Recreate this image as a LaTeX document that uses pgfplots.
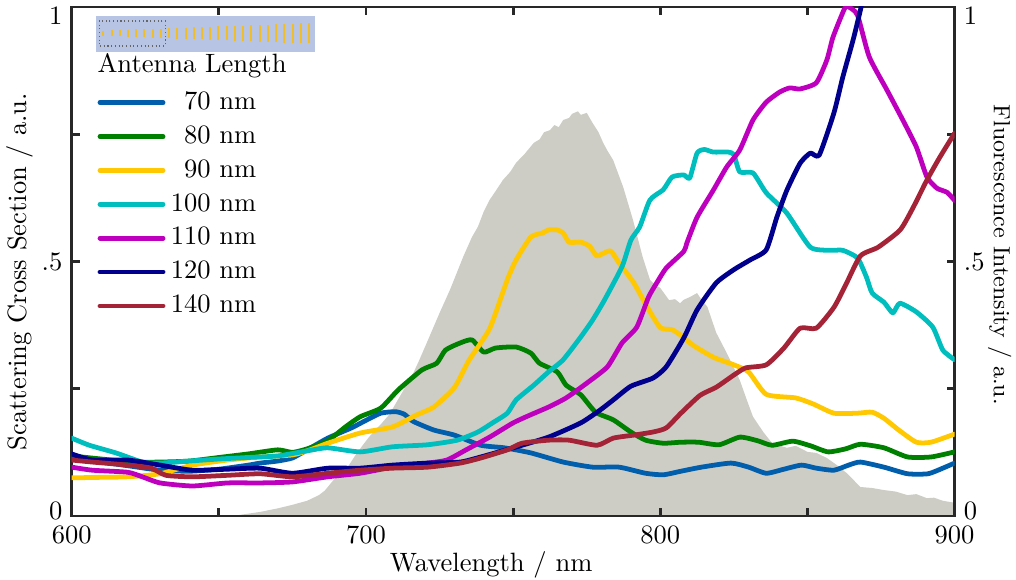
\documentclass[border=0pt]{standalone}
\usepackage{pgfplots}
\pgfplotsset{compat=1.18}
\usetikzlibrary{calc}

\definecolor{axisgray}{RGB}{40,40,40}
\definecolor{fluogray}{RGB}{205,205,197}
\definecolor{c70}{RGB}{0,94,172}
\definecolor{c80}{RGB}{0,128,0}
\definecolor{c90}{RGB}{255,200,0}
\definecolor{c100}{RGB}{0,190,190}
\definecolor{c110}{RGB}{190,0,190}
\definecolor{c120}{RGB}{0,0,140}
\definecolor{c140}{RGB}{165,35,55}
\definecolor{antbg}{RGB}{184,196,228}
\definecolor{antrod}{RGB}{240,190,40}

% fluorescence spectrum (right axis)
\pgfplotstableread{
lambda  I
655 0.000
658 0.003
664 0.008
670 0.015
675 0.022
680 0.030
684 0.041
686 0.050
689 0.071
692 0.090
694 0.098
696 0.116
699 0.140
701 0.155
703 0.168
705 0.180
708 0.200
711 0.230
713 0.250
716 0.280
718 0.305
721 0.345
723 0.372
725 0.399
728.5 0.444
731 0.480
733 0.509
736 0.548
738 0.568
740 0.598
742 0.621
744 0.638
746.5 0.660
749 0.676
751 0.694
754 0.712
757 0.733
759 0.740
760.5 0.754
762.5 0.758
764 0.768
765.5 0.764
767 0.778
769 0.782
770 0.790
772 0.795
773 0.788
775 0.792
777 0.772
779 0.754
780.6 0.733
782 0.718
784 0.699
787.4 0.646
790.7 0.582
794 0.509
796.5 0.464
798 0.455
800 0.448
803 0.424
805 0.426
806.7 0.418
808 0.425
810 0.430
812.5 0.438
814 0.425
816 0.411
819 0.360
822.6 0.320
827 0.267
829.4 0.228
831.5 0.195
835 0.165
838 0.143
843 0.134
846 0.138
850 0.126
853 0.124
856.6 0.114
860 0.100
863.4 0.084
868 0.057
872 0.055
876 0.051
880 0.048
884 0.041
887 0.043
890.6 0.035
893 0.036
896 0.030
900 0.026
}\fluo

\pgfplotstableread{
lambda s
600 0.112
610 0.106
620 0.098
630 0.090
640 0.088
650 0.092
660 0.100
664 0.104
670 0.108
675 0.114
680 0.130
687 0.153
695 0.173
700 0.188
705 0.202
710 0.205
713 0.200
716 0.186
723 0.169
730 0.159
739 0.139
747 0.134
756 0.124
767 0.106
777 0.096
786 0.096
795 0.084
801 0.081
807 0.088
814 0.096
824 0.104
830 0.096
836 0.084
842 0.092
848 0.100
853 0.094
859 0.090
864 0.100
868 0.106
876 0.096
884 0.083
891 0.083
896 0.094
900 0.104
}\sSeventy

\pgfplotstableread{
lambda s
600 0.118
610 0.112
620 0.106
630 0.106
640 0.108
650 0.115
660 0.122
670 0.130
675 0.125
680 0.132
687 0.148
693 0.175
698 0.195
705 0.212
711 0.248
719 0.287
724 0.300
727 0.326
732 0.340
736 0.346
740 0.322
744 0.330
751 0.332
756 0.320
759 0.300
765 0.283
768 0.257
773 0.238
778 0.204
784 0.189
790 0.165
795 0.149
801 0.143
807 0.145
813 0.145
820 0.140
827 0.155
833 0.148
838 0.139
845 0.147
851 0.138
857 0.126
863 0.132
868 0.141
876 0.134
884 0.116
892 0.116
900 0.126
}\sEighty

\pgfplotstableread{
lambda s
600 0.075
610 0.076
619 0.077
630 0.083
641 0.100
653 0.110
664 0.116
675 0.120
681 0.130
687 0.143
698 0.163
709 0.175
717 0.198
723 0.214
730 0.252
735 0.306
742 0.368
748 0.464
751 0.503
756 0.548
760 0.556
762 0.562
765 0.562
767 0.556
769 0.538
773 0.538
776 0.530
778.5 0.511
783 0.521
786 0.497
791 0.458
795.5 0.411
800 0.370
804 0.366
807 0.355
811 0.336
818 0.312
825 0.297
830 0.283
836 0.239
846 0.232
852 0.220
859 0.202
867 0.202
872 0.204
876 0.192
881 0.169
887 0.145
892 0.145
900 0.161
}\sNinety

\pgfplotstableread{
lambda s
600 0.153
606 0.139
615 0.124
624 0.106
630 0.104
640 0.108
650 0.112
660 0.115
670 0.118
680 0.128
687 0.134
698 0.126
709 0.136
721 0.140
731 0.149
738 0.165
743 0.183
748 0.202
751 0.228
757 0.257
762 0.283
767 0.307
773 0.352
777 0.385
781 0.424
787 0.490
790 0.542
793 0.568
796.5 0.621
801 0.641
804 0.666
808 0.670
810 0.664
812.5 0.713
815 0.720
818 0.715
823 0.715
825 0.710
827 0.676
831.5 0.674
836 0.635
843 0.595
851 0.528
858 0.522
862 0.522
867 0.507
870 0.470
872 0.438
876 0.420
879 0.399
881.4 0.418
887 0.401
892.6 0.371
896 0.326
900 0.307
}\sHundred

\pgfplotstableread{
lambda s
600 0.096
607 0.090
619 0.086
624 0.077
630 0.065
641 0.059
653 0.065
664 0.065
675 0.067
687 0.077
698 0.084
709 0.096
721 0.104
727.5 0.110
734 0.130
742 0.155
750 0.183
756 0.199
762 0.214
768 0.232
775 0.261
782 0.293
787 0.340
792 0.371
796 0.430
799 0.460
802 0.487
808 0.520
809 0.536
812.5 0.587
818 0.640
822.6 0.686
827 0.719
831.5 0.778
836 0.813
840.6 0.833
844 0.841
847.5 0.839
853 0.851
856.6 0.896
858.7 0.941
862.7 0.998
864 1.000
867 0.984
871 0.902
877 0.837
882.4 0.778
887 0.725
890.6 0.666
894 0.644
897.4 0.636
900 0.620
}\sHundredTen

\pgfplotstableread{
lambda s
600 0.122
607 0.110
619 0.110
630 0.100
641 0.090
653 0.092
664 0.094
675 0.084
687 0.094
698 0.094
709 0.100
721 0.104
732 0.106
739 0.116
750 0.134
762 0.155
773 0.183
779.5 0.208
784 0.228
790 0.255
797.5 0.271
802 0.293
808 0.350
812.5 0.405
819 0.458
825 0.484
830.5 0.503
836 0.523
839.6 0.587
843 0.640
847.5 0.693
851 0.713
854 0.709
859 0.792
862 0.862
865.5 0.935
868 0.994
870 1.050
}\sHundredTwenty

\pgfplotstableread{
lambda s
600 0.110
607 0.106
619 0.100
627 0.094
632 0.080
641 0.077
653 0.080
664 0.083
675 0.077
687 0.084
698 0.090
709 0.094
721 0.096
732 0.104
739 0.114
748 0.130
753 0.143
762 0.149
769 0.149
778.5 0.139
784 0.153
791 0.159
797.5 0.165
802 0.173
807 0.202
813.5 0.237
819 0.253
825 0.277
829 0.291
836 0.297
842 0.330
847.5 0.369
853 0.369
859 0.410
863 0.454
868 0.511
874 0.528
881.5 0.562
886 0.607
890.6 0.660
895 0.705
900 0.752
}\sHundredForty

\begin{document}
\begin{tikzpicture}
\pgfplotsset{
  common/.style={
    scale only axis, width=333pt, height=192pt,
    xmin=600, xmax=900, ymin=0, ymax=1,
    xtick={600,650,...,900}, ytick={0,0.25,0.5,0.75,1},
    yticklabels={\raisebox{1.8pt}[\height][\depth]{0},,.5,,\raisebox{-3.2pt}[\height][\depth]{1}},
    tick align=inside, major tick length=3pt,
    axis line style={line width=1.1pt, draw=axisgray},
    tick style={line width=1.1pt, draw=axisgray},
    tick label style={font=\fontsize{10}{12}\selectfont},
    label style={font=\fontsize{10}{12}\selectfont},
  },
  curve/.style={line width=1.8pt, line join=round, line cap=round, smooth, tension=0.35},
}

% fluorescence, right-hand scale
\begin{axis}[common,
  xticklabels={},
  yticklabel pos=right,
  ylabel={Fluorescence Intensity / a.u.},
  ylabel style={at={(axis description cs:1.051,0.513)}, anchor=center, rotate=180,
    font=\fontsize{8.8}{10.5}\selectfont},
]
\addplot[draw=none, fill=fluogray] table[x=lambda, y=I] {\fluo} \closedcycle;
\end{axis}

% scattering spectra, left-hand scale
\begin{axis}[common,
  xticklabels={600,,700,,800,,900},
  xlabel={Wavelength / nm},
  xlabel style={at={(axis description cs:0.475,-0.095)}, anchor=center},
  ylabel={Scattering Cross Section / a.u.},
  ylabel style={at={(axis description cs:-0.0586,0.48)}, anchor=center},
  legend cell align=right,
  legend style={at={(axis description cs:0.0287,0.845)}, anchor=north west,
    draw=none, fill=none, font=\fontsize{10}{12}\selectfont,
    row sep=0.6pt, inner sep=0pt},
  legend image code/.code={\draw[#1, line width=1.8pt] (0pt,0pt) -- (23.8pt,0pt);},
]
\addplot[curve, c70]  table[x=lambda, y=s] {\sSeventy};
\addlegendentry{70 nm}
\addplot[curve, c80]  table[x=lambda, y=s] {\sEighty};
\addlegendentry{80 nm}
\addplot[curve, c90]  table[x=lambda, y=s] {\sNinety};
\addlegendentry{90 nm}
\addplot[curve, c100] table[x=lambda, y=s] {\sHundred};
\addlegendentry{100 nm}
\addplot[curve, c110] table[x=lambda, y=s] {\sHundredTen};
\addlegendentry{110 nm}
\addplot[curve, c120] table[x=lambda, y=s] {\sHundredTwenty};
\addlegendentry{120 nm}
\addplot[curve, c140] table[x=lambda, y=s] {\sHundredForty};
\addlegendentry{140 nm}
\node[anchor=base west, inner sep=0pt, font=\fontsize{10}{12}\selectfont]
  at (axis description cs:0.0287,0.872) {Antenna Length};
\coordinate (TL) at (rel axis cs:0,1);
\coordinate (BR) at (rel axis cs:1,0);
\end{axis}

% antenna array sketch above the legend
\begin{scope}[shift={(TL)}, x=0.37736pt, y=-0.37736pt]
  \fill[antbg] (24.3,9) rectangle (243.3,45);
  \foreach \i in {0,...,25} {
    \pgfmathsetmacro{\xx}{31.6+\i*8.22}
    \pgfmathsetmacro{\hh}{2.6+\i*0.30}
    \draw[antrod, line width=0.75pt] (\xx,26.3-\hh) -- (\xx,26.3+\hh);
  }
  \draw[densely dotted, black!60, line width=0.4pt] (27.3,14) rectangle (93.3,39);
\end{scope}

\pgfresetboundingbox
\path ($(TL)+(-27.06pt,2.64pt)$) rectangle ($(BR)+(23.17pt,-23.77pt)$);
\end{tikzpicture}
\end{document}
